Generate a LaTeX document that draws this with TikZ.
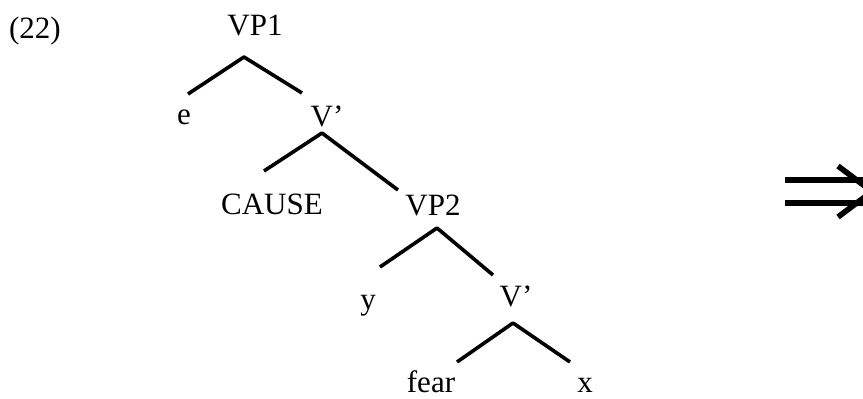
\documentclass[tikz,border=0pt]{standalone}
\usepackage{fontspec}
\setmainfont{Liberation Serif}
\begin{document}
\begin{tikzpicture}[x=0.5pt,y=-0.5pt,line join=round,line width=1.8pt,
  lbl/.style={anchor=base,inner sep=0pt,font=\fontsize{15.5}{18}\selectfont}]
\useasboundingbox (0,0) rectangle (863,398);
\clip (0,0) rectangle (863,398);

% labels
\node[lbl] (num) at (35,38) {(22)};
\node[lbl] (vp1) at (255,35) {VP1};
\node[lbl] (e) at (184,124) {e};
\node[lbl] (vbar1) at (327,126) {V’};
\node[lbl] (cause) at (272,214) {CAUSE};
\node[lbl] (vp2) at (433,215) {VP2};
\node[lbl] (y) at (368,309) {y};
\node[lbl] (vbar2) at (516,306) {V’};
\node[lbl] (fear) at (431,392) {fear};
\node[lbl] (x) at (585,392) {x};

% branch points and branch ends
\coordinate (vp1-b) at (244,57);   \coordinate (vp1-l) at (188,94);   \coordinate (vp1-r) at (302,93);
\coordinate (vbar1-b) at (322,133); \coordinate (vbar1-l) at (264,171); \coordinate (vbar1-r) at (398,190);
\coordinate (vp2-b) at (437,228);  \coordinate (vp2-l) at (380,267);  \coordinate (vp2-r) at (493,275);
\coordinate (vbar2-b) at (513,323); \coordinate (vbar2-l) at (457,362); \coordinate (vbar2-r) at (570,362);

\draw (vp1-l)--(vp1-b)--(vp1-r);
\draw (vbar1-l)--(vbar1-b)--(vbar1-r);
\draw (vp2-l)--(vp2-b)--(vp2-r);
\draw (vbar2-l)--(vbar2-b)--(vbar2-r);

% double arrow, runs off the right edge
\coordinate (arr) at (785,191.5);
\draw[line width=2.8pt] ([yshift=5.75pt]arr)--++(85,0) ([yshift=-5.75pt]arr)--++(85,0);
\draw[line width=2.8pt] (838,166)--(872,191.5)--(838,217);
\end{tikzpicture}
\end{document}
